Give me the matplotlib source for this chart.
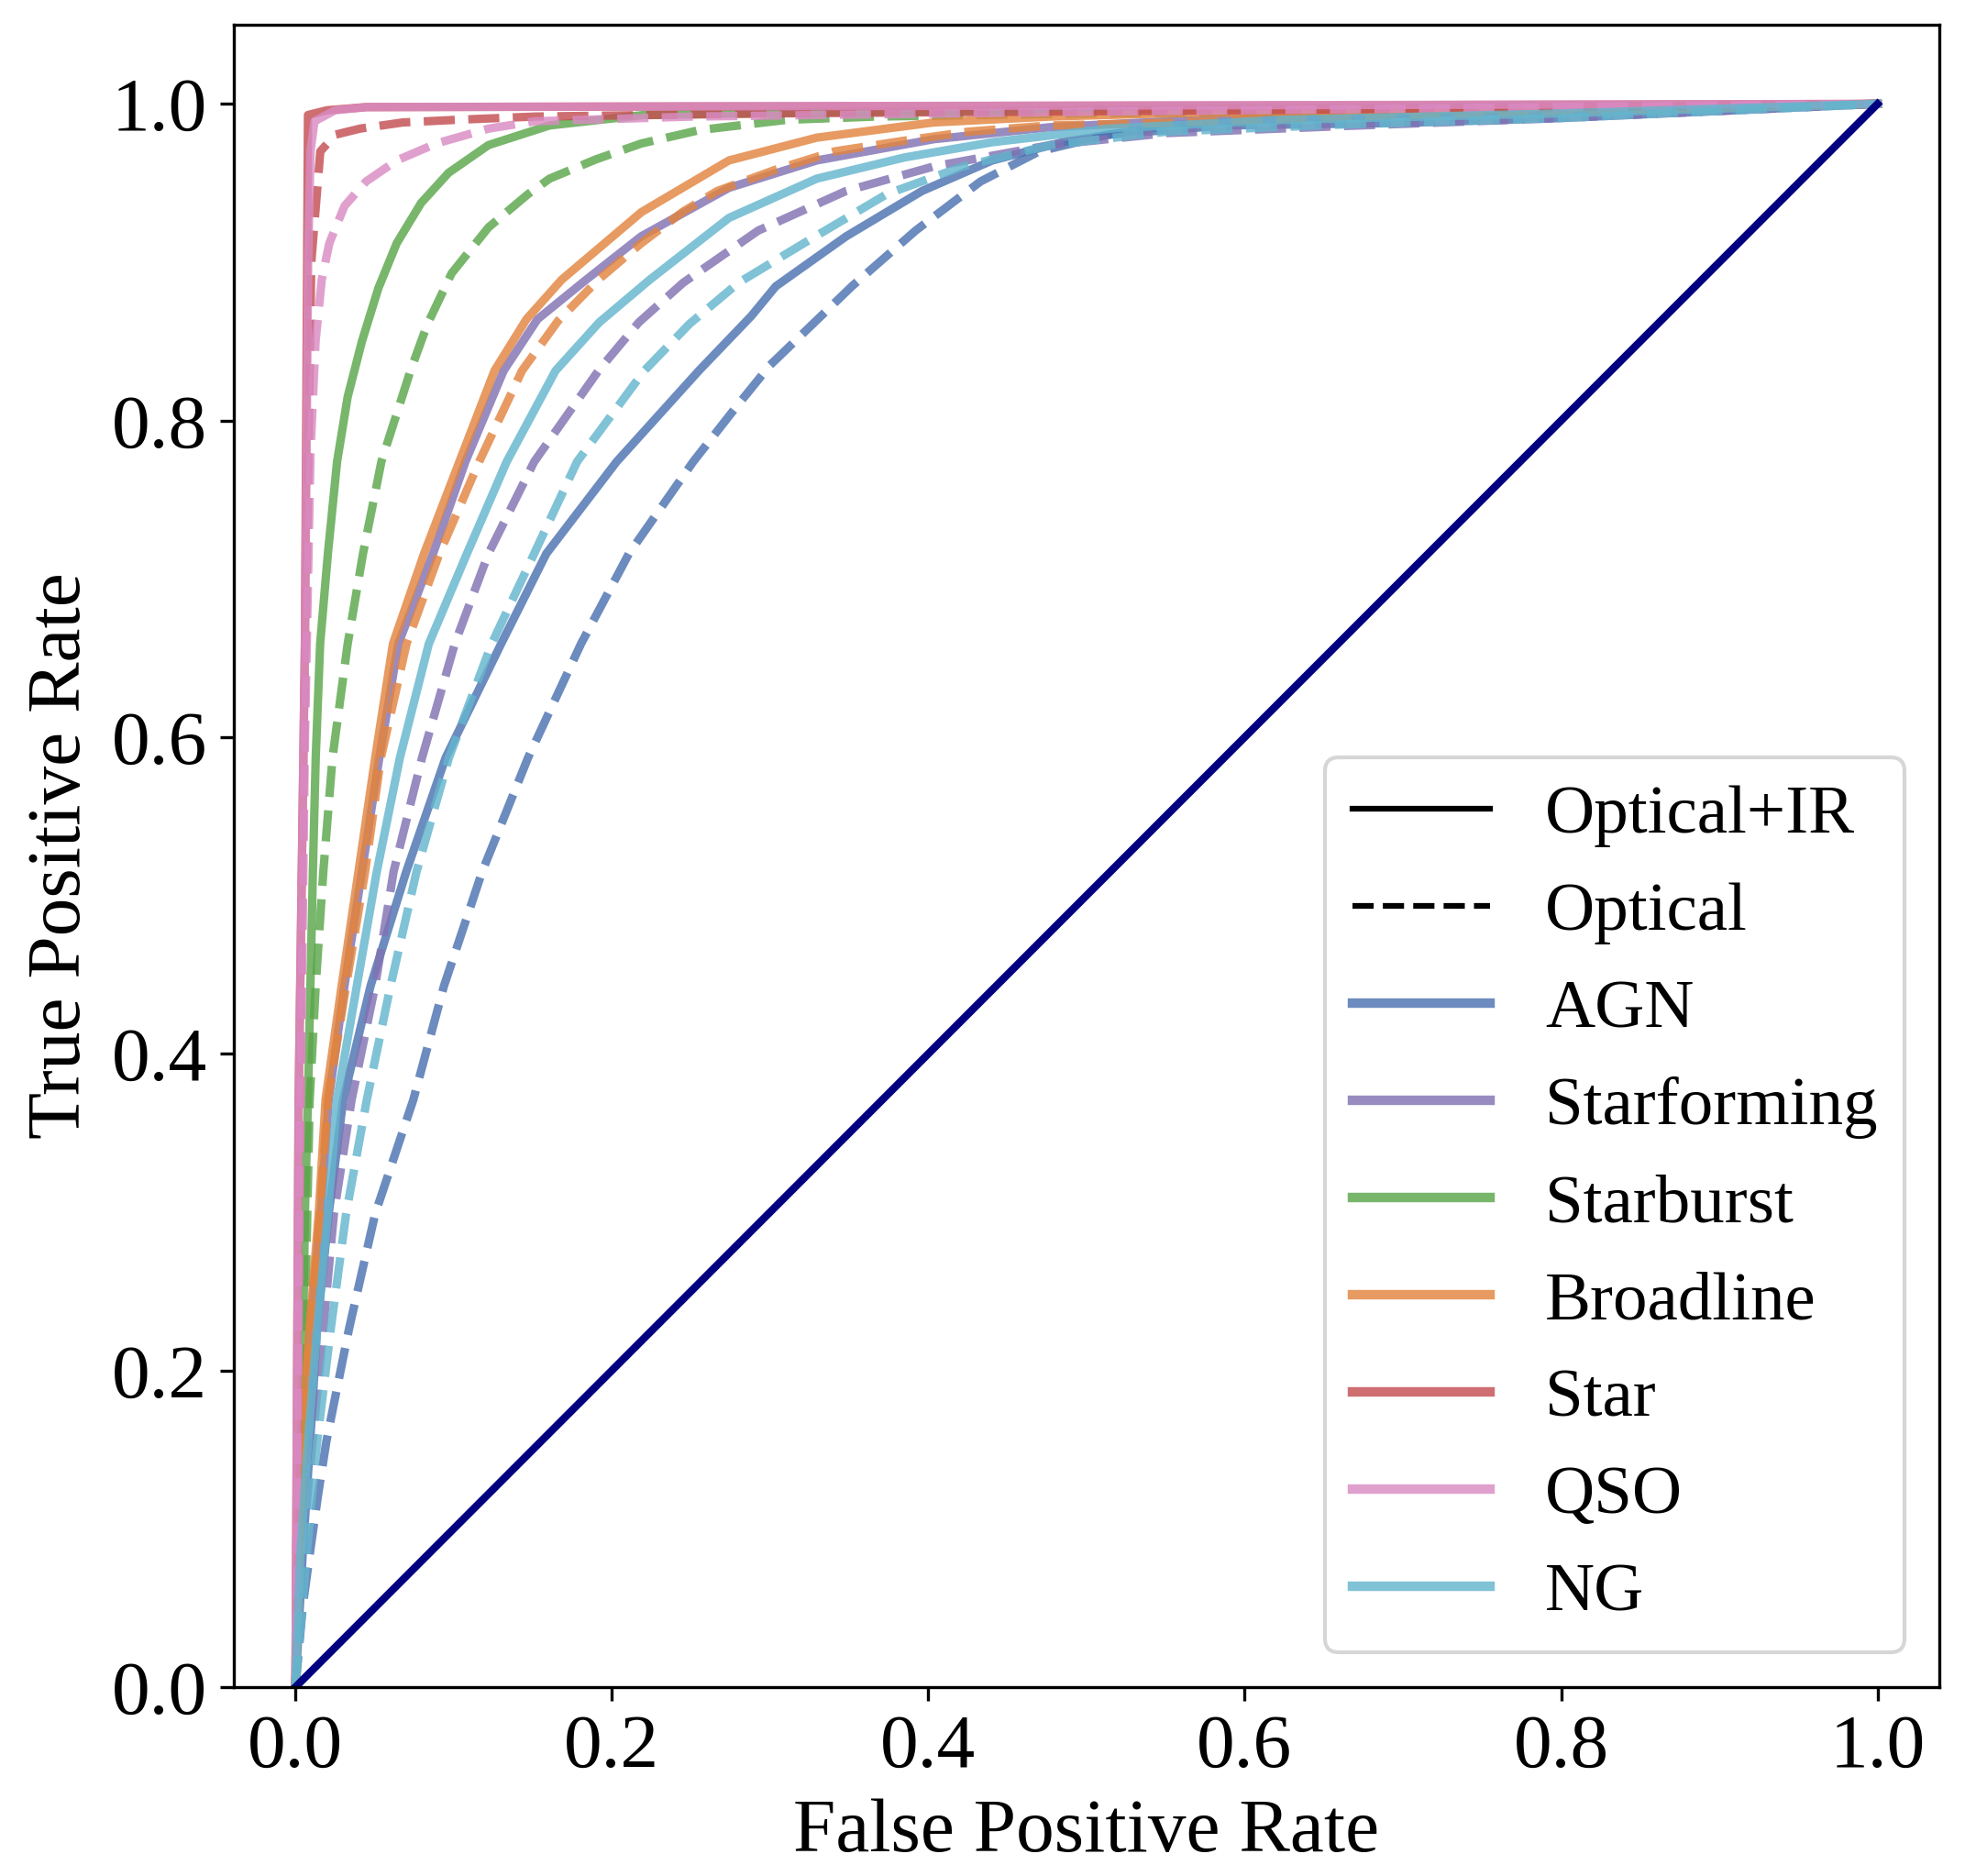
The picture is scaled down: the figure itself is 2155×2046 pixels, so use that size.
import matplotlib
matplotlib.use("Agg")
import matplotlib.pyplot as plt
from matplotlib.lines import Line2D

plt.rcParams['font.family'] = ['Liberation Serif', 'DejaVu Serif']

# ROC curves (fpr, tpr), Optical+IR (solid) and Optical (dashed)
agn_ir_fpr = [0, 0.0045, 0.0094, 0.0137, 0.021, 0.0302, 0.0475, 0.070, 0.0949, 0.130, 0.1586, 0.203, 0.255, 0.2881, 0.3036, 0.348, 0.396, 0.4404, 0.4847, 0.551, 0.662, 0.798, 1.0]
agn_ir_tpr = [0, 0.083, 0.157, 0.227, 0.299, 0.371, 0.443, 0.515, 0.587, 0.659, 0.716, 0.774, 0.8315, 0.866, 0.8848, 0.9163, 0.945, 0.9643, 0.9758, 0.9864, 0.992, 0.9969, 1.0]
agn_op_fpr = [0, 0.0046, 0.0089, 0.0143, 0.0195, 0.0253, 0.034, 0.0504, 0.0745, 0.0939, 0.118, 0.147, 0.1805, 0.2108, 0.2514, 0.2785, 0.3, 0.3517, 0.392, 0.433, 0.470, 0.514, 0.588, 0.699, 0.798, 1.0]
agn_op_tpr = [0, 0.051, 0.083, 0.1215, 0.155, 0.184, 0.227, 0.299, 0.371, 0.443, 0.515, 0.587, 0.659, 0.716, 0.774, 0.8085, 0.835, 0.8848, 0.920, 0.951, 0.970, 0.9806, 0.9864, 0.988, 0.991, 1.0]

sf_ir_fpr = [0, 0.0045, 0.0095, 0.016, 0.021, 0.031, 0.042, 0.053, 0.065, 0.087, 0.1074, 0.1316, 0.153, 0.1838, 0.2186, 0.274, 0.3295, 0.4034, 0.477, 0.551, 0.7, 1.0]
sf_ir_tpr = [0, 0.155, 0.227, 0.299, 0.371, 0.443, 0.515, 0.587, 0.659, 0.716, 0.774, 0.8315, 0.864, 0.889, 0.9164, 0.947, 0.9643, 0.9777, 0.9853, 0.989, 0.994, 1.0]
sf_op_fpr = [0, 0.004, 0.0108, 0.0176, 0.0243, 0.0355, 0.0504, 0.062, 0.080, 0.1007, 0.122, 0.1509, 0.1915, 0.217, 0.245, 0.2925, 0.348, 0.4034, 0.477, 0.551, 0.662, 0.798, 1.0]
sf_op_tpr = [0, 0.083, 0.155, 0.227, 0.299, 0.371, 0.443, 0.515, 0.587, 0.659, 0.716, 0.774, 0.8315, 0.862, 0.887, 0.920, 0.945, 0.9605, 0.974, 0.9816, 0.986, 0.991, 1.0]

sb_ir_fpr = [0, 0.002, 0.0045, 0.006, 0.0079, 0.011, 0.0128, 0.0156, 0.0205, 0.0263, 0.033, 0.042, 0.0524, 0.064, 0.0794, 0.0968, 0.122, 0.1606, 0.22, 0.35, 0.6, 1.0]
sb_ir_tpr = [0, 0.08, 0.2, 0.3, 0.371, 0.515, 0.587, 0.659, 0.716, 0.774, 0.815, 0.850, 0.8836, 0.912, 0.9374, 0.9565, 0.974, 0.9864, 0.993, 0.995, 0.997, 1.0]
sb_op_fpr = [0, 0.003, 0.0055, 0.0075, 0.009, 0.0128, 0.0176, 0.0234, 0.033, 0.0427, 0.0543, 0.0727, 0.0833, 0.0987, 0.122, 0.147, 0.1606, 0.19, 0.2186, 0.2555, 0.311, 0.3665, 0.5, 0.7, 1.0]
sb_op_tpr = [0, 0.1, 0.2, 0.3, 0.371, 0.443, 0.515, 0.587, 0.659, 0.716, 0.774, 0.8315, 0.8606, 0.893, 0.922, 0.943, 0.9528, 0.965, 0.975, 0.9835, 0.990, 0.992, 0.994, 0.996, 1.0]

bl_ir_fpr = [0, 0.0015, 0.004, 0.0089, 0.0147, 0.019, 0.0292, 0.0398, 0.0504, 0.0616, 0.0813, 0.1036, 0.1258, 0.146, 0.1683, 0.2186, 0.274, 0.3295, 0.4034, 0.477, 0.551, 0.7, 1.0]
bl_ir_tpr = [0, 0.06, 0.155, 0.227, 0.299, 0.371, 0.443, 0.515, 0.587, 0.659, 0.716, 0.774, 0.8315, 0.864, 0.889, 0.9316, 0.9643, 0.9787, 0.9883, 0.992, 0.994, 0.996, 1.0]
bl_op_fpr = [0, 0.0045, 0.0095, 0.0155, 0.0205, 0.032, 0.044, 0.054, 0.0702, 0.091, 0.1161, 0.1432, 0.166, 0.1915, 0.2186, 0.245, 0.2666, 0.3036, 0.3406, 0.385, 0.4255, 0.477, 0.551, 0.7, 1.0]
bl_op_tpr = [0, 0.155, 0.227, 0.299, 0.371, 0.443, 0.515, 0.587, 0.659, 0.716, 0.774, 0.8315, 0.863, 0.889, 0.912, 0.932, 0.945, 0.9585, 0.970, 0.9768, 0.9825, 0.9864, 0.988, 0.993, 1.0]

st_ir_fpr = [0, 0.002, 0.006, 0.0079, 0.02, 0.045, 0.6, 1.0]
st_ir_tpr = [0, 0.37, 0.66, 0.993, 0.996, 0.998, 0.999, 1.0]
st_op_fpr = [0, 0.004, 0.01, 0.0157, 0.0253, 0.0408, 0.0678, 0.1026, 0.151, 0.3, 0.6, 1.0]
st_op_tpr = [0, 0.5, 0.9, 0.970, 0.9806, 0.9844, 0.9883, 0.990, 0.992, 0.994, 0.996, 1.0]

qso_ir_fpr = [0, 0.002, 0.006, 0.008, 0.0095, 0.012, 0.025, 0.045, 1.0]
qso_ir_tpr = [0, 0.37, 0.66, 0.9, 0.97, 0.989, 0.996, 0.998, 1.0]
qso_op_fpr = [0, 0.003, 0.006, 0.0095, 0.0127, 0.0166, 0.0214, 0.031, 0.0446, 0.064, 0.089, 0.122, 0.151, 0.25, 0.5, 1.0]
qso_op_tpr = [0, 0.35, 0.6, 0.78, 0.85, 0.889, 0.912, 0.9355, 0.951, 0.9643, 0.975, 0.9844, 0.989, 0.992, 0.995, 1.0]

ng_ir_fpr = [0, 0.003, 0.0079, 0.0137, 0.0205, 0.0263, 0.0388, 0.0514, 0.066, 0.0843, 0.1084, 0.1335, 0.1644, 0.192, 0.224, 0.274, 0.3295, 0.385, 0.4404, 0.514, 0.625, 0.8, 1.0]
ng_ir_tpr = [0, 0.083, 0.155, 0.227, 0.299, 0.371, 0.443, 0.515, 0.587, 0.659, 0.716, 0.774, 0.8315, 0.862, 0.889, 0.928, 0.9528, 0.9662, 0.9758, 0.9844, 0.990, 0.994, 1.0]
ng_op_fpr = [0, 0.007, 0.0137, 0.0224, 0.032, 0.0451, 0.0601, 0.0765, 0.097, 0.124, 0.1509, 0.178, 0.2205, 0.249, 0.280, 0.322, 0.3739, 0.4219, 0.477, 0.551, 0.662, 0.798, 1.0]
ng_op_tpr = [0, 0.083, 0.155, 0.227, 0.299, 0.371, 0.443, 0.515, 0.587, 0.659, 0.716, 0.774, 0.8315, 0.861, 0.887, 0.9124, 0.9431, 0.9605, 0.974, 0.9825, 0.987, 0.991, 1.0]

classes = ['AGN', 'Starforming', 'Starburst', 'Broadline', 'Star', 'QSO', 'NG']
colors = ['#4C72B0', '#8172B3', '#5AA64A', '#E2843F', '#C44E52', '#DA8BC3', '#64B5CD']
curves = [
    (agn_ir_fpr, agn_ir_tpr, agn_op_fpr, agn_op_tpr),
    (sf_ir_fpr, sf_ir_tpr, sf_op_fpr, sf_op_tpr),
    (sb_ir_fpr, sb_ir_tpr, sb_op_fpr, sb_op_tpr),
    (bl_ir_fpr, bl_ir_tpr, bl_op_fpr, bl_op_tpr),
    (st_ir_fpr, st_ir_tpr, st_op_fpr, st_op_tpr),
    (qso_ir_fpr, qso_ir_tpr, qso_op_fpr, qso_op_tpr),
    (ng_ir_fpr, ng_ir_tpr, ng_op_fpr, ng_op_tpr),
]

fig = plt.figure(figsize=(2155 / 300, 2046 / 300), dpi=300)
ax = fig.add_axes([0.1183, 0.1007, 0.8631, 0.8861])

for (fir, tir, fop, top), c in zip(curves, colors):
    ax.plot(fir, tir, color=c, lw=2.2, alpha=0.82, ls='-')
    ax.plot(fop, top, color=c, lw=2.2, alpha=0.82, ls='--')

# chance line
ax.plot([0, 1], [0, 1], color='navy', lw=2)

ax.set_xlim(-0.039, 1.039)
ax.set_ylim(0, 1.05)
ax.set_xlabel('False Positive Rate', fontsize=20)
ax.set_ylabel('True Positive Rate', fontsize=20)
ax.tick_params(labelsize=20)

handles = [Line2D([], [], color='black', lw=1.5, ls='-'),
           Line2D([], [], color='black', lw=1.5, ls='--')]
handles += [Line2D([], [], color=c, lw=2.5, alpha=0.82) for c in colors]
labels = ['Optical+IR', 'Optical'] + classes
ax.legend(handles, labels, loc='lower right', fontsize=18)

fig.savefig('out.png', dpi=300)
